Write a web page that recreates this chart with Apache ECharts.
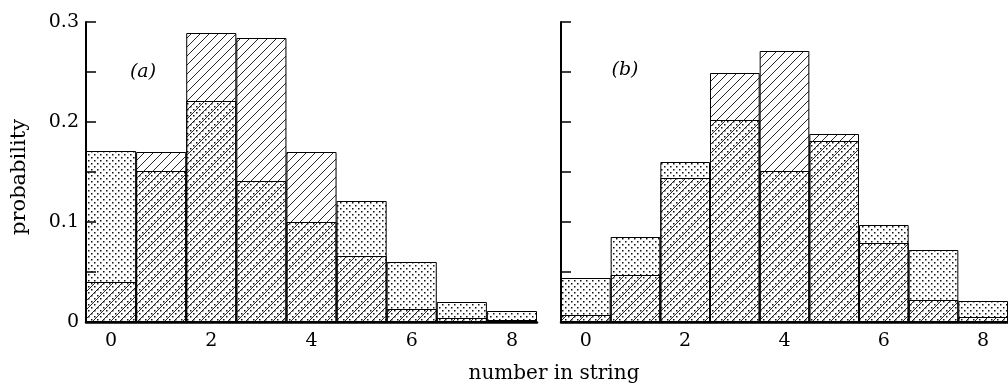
<!DOCTYPE html>
<html>
<head>
<meta charset="utf-8">
<script src="https://cdn.jsdelivr.net/npm/echarts@6/dist/echarts.min.js"></script>
<style>
  html, body { margin: 0; padding: 0; background: #fff; }
  #chart { width: 1008px; height: 385px; }
</style>
</head>
<body>
<div id="chart"></div>
<script>
// number in string (bins)
var categories = ["0", "1", "2", "3", "4", "5", "6", "7", "8"];

// panel (a)
var aHatched = [0.04, 0.17, 0.289, 0.284, 0.17, 0.066, 0.013, 0.004, 0.002];
var aDotted = [0.171, 0.151, 0.221, 0.141, 0.1, 0.121, 0.06, 0.02, 0.011];

// panel (b)
var bHatched = [0.007, 0.047, 0.144, 0.249, 0.271, 0.188, 0.079, 0.022, 0.005];
var bDotted = [0.044, 0.085, 0.16, 0.202, 0.151, 0.181, 0.097, 0.072, 0.021];

var FONT = "DejaVu Serif";

// fill patterns, transparent so overlaps show both
function hatchPattern() {
  var c = document.createElement("canvas");
  c.width = 9; c.height = 9;
  var ctx = c.getContext("2d");
  ctx.strokeStyle = "#111";
  ctx.lineWidth = 0.9;
  ctx.beginPath();
  ctx.moveTo(0, 9); ctx.lineTo(9, 0);
  ctx.moveTo(-2, 2); ctx.lineTo(2, -2);
  ctx.moveTo(7, 11); ctx.lineTo(11, 7);
  ctx.stroke();
  return c;
}
function dotPattern() {
  var c = document.createElement("canvas");
  c.width = 6; c.height = 6;
  var ctx = c.getContext("2d");
  ctx.fillStyle = "#111";
  ctx.fillRect(1, 1, 1.5, 1.5);
  ctx.fillRect(4, 4, 1.5, 1.5);
  return c;
}
var hatchFill = { image: hatchPattern(), repeat: "repeat" };
var dotFill = { image: dotPattern(), repeat: "repeat" };

function yLabel(v) {
  if (Math.abs(v * 10 - Math.round(v * 10)) > 1e-6) return "";
  return v === 0 ? "0" : v.toFixed(1);
}

function xAxisOf(gi) {
  return {
    type: "category",
    gridIndex: gi,
    data: categories,
    boundaryGap: true,
    axisLine: { lineStyle: { color: "#000", width: 2.5 } },
    axisTick: { show: false },
    axisLabel: { interval: 1, color: "#000", fontFamily: FONT, fontSize: 19, margin: 10 }
  };
}

function yAxisOf(gi, labels) {
  return {
    type: "value",
    gridIndex: gi,
    min: 0,
    max: 0.3,
    interval: 0.05,
    axisLine: { show: true, lineStyle: { color: "#000", width: 2 } },
    axisTick: { show: true, inside: true, length: 10, lineStyle: { color: "#000", width: 1.5 } },
    splitLine: { show: false },
    axisLabel: { show: labels, formatter: yLabel, color: "#000", fontFamily: FONT, fontSize: 19, margin: 7 }
  };
}

function barSeries(idx, data, fill) {
  return {
    type: "bar",
    xAxisIndex: idx,
    yAxisIndex: idx,
    data: data,
    barWidth: "100%",
    barGap: "-100%",
    itemStyle: { color: fill, borderColor: "#000", borderWidth: 1 },
    emphasis: { disabled: true },
    animation: false
  };
}

var myChart = echarts.init(document.getElementById("chart"));
var option = {
  animation: false,
  grid: [
    { left: 86, top: 22, width: 451, bottom: 63 },
    { left: 561, top: 22, width: 454, bottom: 63 }
  ],
  xAxis: [xAxisOf(0), xAxisOf(1)],
  yAxis: [yAxisOf(0, true), yAxisOf(1, false)],
  series: [
    barSeries(0, aDotted, dotFill),
    barSeries(0, aHatched, hatchFill),
    barSeries(1, bDotted, dotFill),
    barSeries(1, bHatched, hatchFill)
  ],
  graphic: [
    { type: "text", x: 143, y: 72, style: { text: "(a)", font: "italic 19px " + FONT, fill: "#000", align: "center", verticalAlign: "middle" } },
    { type: "text", x: 625, y: 70, style: { text: "(b)", font: "italic 19px " + FONT, fill: "#000", align: "center", verticalAlign: "middle" } },
    { type: "text", x: 20, y: 177, rotation: Math.PI / 2, style: { text: "probability", font: "21px " + FONT, fill: "#000", align: "center", verticalAlign: "middle" } },
    { type: "text", x: 554, y: 374, style: { text: "number in string", font: "20px " + FONT, fill: "#000", align: "center", verticalAlign: "middle" } }
  ]
};
myChart.setOption(option);
</script>
</body>
</html>
